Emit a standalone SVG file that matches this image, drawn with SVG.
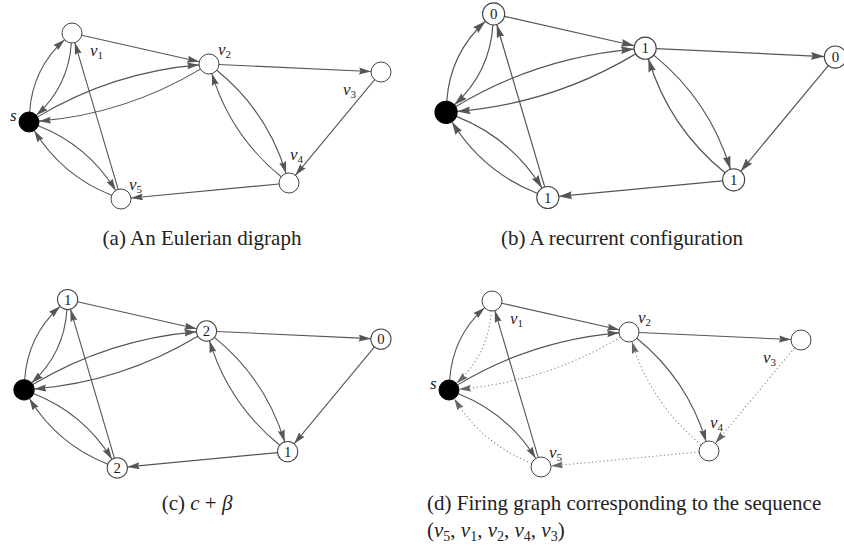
<svg xmlns="http://www.w3.org/2000/svg" width="844" height="550" viewBox="0 0 844 550">
<style>
.e{fill:none;stroke:#555;stroke-width:1.1;marker-end:url(#ah)}
.d{fill:none;stroke:#8a8a8a;stroke-width:1.1;stroke-dasharray:1.2 2.6;marker-end:url(#ahd)}
.n{fill:#fff;stroke:#444;stroke-width:1}
.sn{fill:#000;stroke:#000;stroke-width:1}
.lbl{font-family:"Liberation Serif",serif;font-style:italic;font-size:17px;fill:#222}
.sub{font-style:normal;font-size:11px}
.num{font-family:"Liberation Serif",serif;text-anchor:middle;fill:#222}
.cap{font-family:"Liberation Serif",serif;font-size:21px;fill:#222}
.it{font-style:italic}
.csub{font-size:14px}
</style>
<defs>
<marker id="ah" markerUnits="userSpaceOnUse" markerWidth="13" markerHeight="8" refX="12" refY="3.5" orient="auto"><path d="M0,0 L12,3.5 L0,7 L1.5,3.5 z" fill="#555"/></marker>
<marker id="ahd" markerUnits="userSpaceOnUse" markerWidth="13" markerHeight="8" refX="12" refY="3.5" orient="auto"><path d="M0,0 L12,3.5 L0,7 L1.5,3.5 z" fill="#666"/></marker>
</defs>

<!-- (a) -->
<g id="panel-a">
<g id="a-edges">
<path class="e" d="M81.75,35.21 L199.25,61.79"/>
<path class="e" d="M218.99,64.46 L371.01,71.54"/>
<path class="e" d="M374.62,79.70 L295.38,175.30"/>
<path class="e" d="M279.05,183.95 L130.95,198.05"/>
<path class="e" d="M118.17,189.41 L74.83,42.59"/>
<path class="e" d="M29.65,112.02 Q32.49,68.80 64.59,39.71"/>
<path class="e" d="M71.35,42.98 Q68.51,86.20 36.41,115.29"/>
<path class="e" d="M37.58,116.86 Q112.25,72.06 199.04,64.83"/>
<path class="e" d="M200.43,69.14 Q125.75,113.94 38.97,121.17"/>
<path class="e" d="M216.77,70.30 Q267.26,111.23 286.10,173.43"/>
<path class="e" d="M281.23,176.70 Q230.74,135.77 211.90,73.57"/>
<path class="e" d="M38.31,125.66 Q87.84,145.16 115.76,190.49"/>
<path class="e" d="M111.69,195.34 Q62.16,175.84 34.24,130.52"/>
</g>
<g id="a-s"><circle class="sn" cx="29" cy="122" r="10"/><text class="lbl" x="10" y="121">s</text></g>
<g id="a-v1"><circle class="n" cx="72" cy="33" r="10"/><text class="lbl" x="90" y="56">v<tspan class="sub" dy="3">1</tspan></text></g>
<g id="a-v2"><circle class="n" cx="209" cy="64" r="10"/><text class="lbl" x="218" y="55">v<tspan class="sub" dy="3">2</tspan></text></g>
<g id="a-v3"><circle class="n" cx="381" cy="72" r="10"/><text class="lbl" x="343" y="95">v<tspan class="sub" dy="3">3</tspan></text></g>
<g id="a-v4"><circle class="n" cx="289" cy="183" r="10"/><text class="lbl" x="290" y="160">v<tspan class="sub" dy="3">4</tspan></text></g>
<g id="a-v5"><circle class="n" cx="121" cy="199" r="10"/><text class="lbl" x="129" y="190">v<tspan class="sub" dy="3">5</tspan></text></g>
</g>
<text class="cap" x="202" y="245" text-anchor="middle">(a) An Eulerian digraph</text>

<!-- (b) -->
<g id="panel-b" transform="translate(414,-22.6) scale(1.106)">
<g id="b-edges">
<path class="e" d="M81.75,35.21 L199.25,61.79"/>
<path class="e" d="M218.99,64.46 L371.01,71.54"/>
<path class="e" d="M374.62,79.70 L295.38,175.30"/>
<path class="e" d="M279.05,183.95 L130.95,198.05"/>
<path class="e" d="M118.17,189.41 L74.83,42.59"/>
<path class="e" d="M29.65,112.02 Q32.49,68.80 64.59,39.71"/>
<path class="e" d="M71.35,42.98 Q68.51,86.20 36.41,115.29"/>
<path class="e" d="M37.58,116.86 Q112.25,72.06 199.04,64.83"/>
<path class="e" d="M200.43,69.14 Q125.75,113.94 38.97,121.17"/>
<path class="e" d="M216.77,70.30 Q267.26,111.23 286.10,173.43"/>
<path class="e" d="M281.23,176.70 Q230.74,135.77 211.90,73.57"/>
<path class="e" d="M38.31,125.66 Q87.84,145.16 115.76,190.49"/>
<path class="e" d="M111.69,195.34 Q62.16,175.84 34.24,130.52"/>
</g>
<g id="b-s"><circle class="sn" cx="29" cy="122" r="10"/></g>
<g id="b-v1"><circle class="n" cx="72" cy="33" r="10"/><text class="num" x="72" y="37.6" font-size="13.5">0</text></g>
<g id="b-v2"><circle class="n" cx="209" cy="64" r="10"/><text class="num" x="209" y="68.6" font-size="13.5">1</text></g>
<g id="b-v3"><circle class="n" cx="381" cy="72" r="10"/><text class="num" x="381" y="76.6" font-size="13.5">0</text></g>
<g id="b-v4"><circle class="n" cx="289" cy="183" r="10"/><text class="num" x="289" y="187.6" font-size="13.5">1</text></g>
<g id="b-v5"><circle class="n" cx="121" cy="199" r="10"/><text class="num" x="121" y="203.6" font-size="13.5">1</text></g>
</g>
<text class="cap" x="622" y="245" text-anchor="middle">(b) A recurrent configuration</text>

<!-- (c) -->
<g id="panel-c" transform="translate(-5.4,266.1) scale(1.014)">
<g id="c-edges">
<path class="e" d="M81.75,35.21 L199.25,61.79"/>
<path class="e" d="M218.99,64.46 L371.01,71.54"/>
<path class="e" d="M374.62,79.70 L295.38,175.30"/>
<path class="e" d="M279.05,183.95 L130.95,198.05"/>
<path class="e" d="M118.17,189.41 L74.83,42.59"/>
<path class="e" d="M29.65,112.02 Q32.49,68.80 64.59,39.71"/>
<path class="e" d="M71.35,42.98 Q68.51,86.20 36.41,115.29"/>
<path class="e" d="M37.58,116.86 Q112.25,72.06 199.04,64.83"/>
<path class="e" d="M200.43,69.14 Q125.75,113.94 38.97,121.17"/>
<path class="e" d="M216.77,70.30 Q267.26,111.23 286.10,173.43"/>
<path class="e" d="M281.23,176.70 Q230.74,135.77 211.90,73.57"/>
<path class="e" d="M38.31,125.66 Q87.84,145.16 115.76,190.49"/>
<path class="e" d="M111.69,195.34 Q62.16,175.84 34.24,130.52"/>
</g>
<g id="c-s"><circle class="sn" cx="29" cy="122" r="10"/></g>
<g id="c-v1"><circle class="n" cx="72" cy="33" r="10"/><text class="num" x="72" y="38" font-size="14.5">1</text></g>
<g id="c-v2"><circle class="n" cx="209" cy="64" r="10"/><text class="num" x="209" y="69" font-size="14.5">2</text></g>
<g id="c-v3"><circle class="n" cx="381" cy="72" r="10"/><text class="num" x="381" y="77" font-size="14.5">0</text></g>
<g id="c-v4"><circle class="n" cx="289" cy="183" r="10"/><text class="num" x="289" y="188" font-size="14.5">1</text></g>
<g id="c-v5"><circle class="n" cx="121" cy="199" r="10"/><text class="num" x="121" y="204" font-size="14.5">2</text></g>
</g>
<text class="cap" x="197" y="510" text-anchor="middle">(c) <tspan class="it">c</tspan> + <tspan class="it">β</tspan></text>

<!-- (d) -->
<g id="panel-d" transform="translate(420,268)">
<g id="d-edges">
<path class="e" d="M81.75,35.21 L199.25,61.79"/>
<path class="e" d="M218.99,64.46 L371.01,71.54"/>
<path class="d" d="M374.62,79.70 L295.38,175.30"/>
<path class="d" d="M279.05,183.95 L130.95,198.05"/>
<path class="e" d="M118.17,189.41 L74.83,42.59"/>
<path class="e" d="M29.65,112.02 Q32.49,68.80 64.59,39.71"/>
<path class="d" d="M71.35,42.98 Q68.51,86.20 36.41,115.29"/>
<path class="e" d="M37.58,116.86 Q112.25,72.06 199.04,64.83"/>
<path class="d" d="M200.43,69.14 Q125.75,113.94 38.97,121.17"/>
<path class="e" d="M216.77,70.30 Q267.26,111.23 286.10,173.43"/>
<path class="d" d="M281.23,176.70 Q230.74,135.77 211.90,73.57"/>
<path class="e" d="M38.31,125.66 Q87.84,145.16 115.76,190.49"/>
<path class="d" d="M111.69,195.34 Q62.16,175.84 34.24,130.52"/>
</g>
<g id="d-s"><circle class="sn" cx="29" cy="122" r="10"/><text class="lbl" x="10" y="121">s</text></g>
<g id="d-v1"><circle class="n" cx="72" cy="33" r="10"/><text class="lbl" x="90" y="56">v<tspan class="sub" dy="3">1</tspan></text></g>
<g id="d-v2"><circle class="n" cx="209" cy="64" r="10"/><text class="lbl" x="218" y="55">v<tspan class="sub" dy="3">2</tspan></text></g>
<g id="d-v3"><circle class="n" cx="381" cy="72" r="10"/><text class="lbl" x="343" y="95">v<tspan class="sub" dy="3">3</tspan></text></g>
<g id="d-v4"><circle class="n" cx="289" cy="183" r="10"/><text class="lbl" x="290" y="160">v<tspan class="sub" dy="3">4</tspan></text></g>
<g id="d-v5"><circle class="n" cx="121" cy="199" r="10"/><text class="lbl" x="129" y="190">v<tspan class="sub" dy="3">5</tspan></text></g>
</g>
<text class="cap" x="427" y="510">(d) Firing graph corresponding to the sequence</text>
<text class="cap" x="427" y="537">(<tspan class="it">v</tspan><tspan class="csub" dy="4">5</tspan><tspan dy="-4">, </tspan><tspan class="it">v</tspan><tspan class="csub" dy="4">1</tspan><tspan dy="-4">, </tspan><tspan class="it">v</tspan><tspan class="csub" dy="4">2</tspan><tspan dy="-4">, </tspan><tspan class="it">v</tspan><tspan class="csub" dy="4">4</tspan><tspan dy="-4">, </tspan><tspan class="it">v</tspan><tspan class="csub" dy="4">3</tspan><tspan dy="-4">)</tspan></text>
</svg>
